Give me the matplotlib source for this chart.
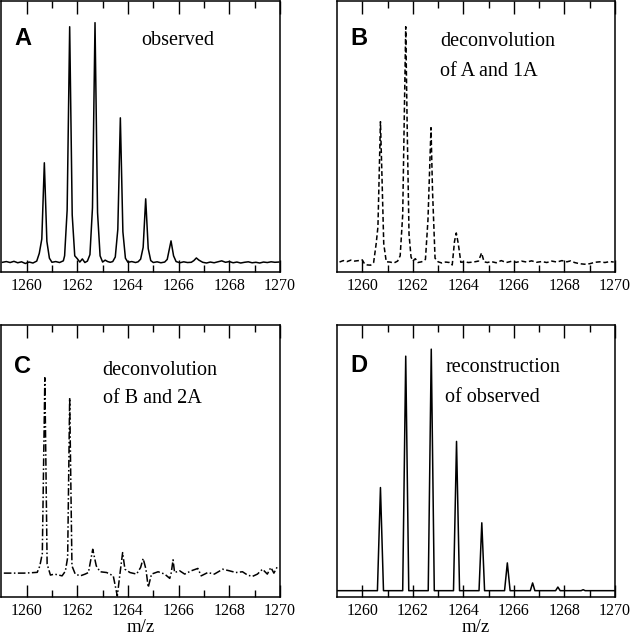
import numpy as np
import matplotlib.pyplot as plt

SERIF = ['Liberation Serif', 'DejaVu Serif']
SANS = ['Liberation Sans', 'DejaVu Sans']

# A: observed
MZ_A = [1259.05, 1259.2, 1259.35, 1259.5, 1259.65, 1259.8, 1259.95, 1260.1, 1260.25, 1260.4,
        1260.5, 1260.6, 1260.7, 1260.8, 1260.9, 1261.0, 1261.15, 1261.3, 1261.45, 1261.5,
        1261.6, 1261.7, 1261.8, 1261.9, 1262.0, 1262.1, 1262.2, 1262.3, 1262.4, 1262.5,
        1262.6, 1262.7, 1262.8, 1262.9, 1263.0, 1263.1, 1263.2, 1263.3, 1263.4, 1263.5,
        1263.6, 1263.7, 1263.8, 1263.9, 1264.0, 1264.15, 1264.3, 1264.4, 1264.5, 1264.6,
        1264.7, 1264.8, 1264.9, 1265.0, 1265.15, 1265.3, 1265.45, 1265.55, 1265.7, 1265.8,
        1265.9, 1266.05, 1266.2, 1266.35, 1266.5, 1266.6, 1266.7, 1266.8, 1266.95, 1267.1,
        1267.25, 1267.4, 1267.55, 1267.7, 1267.85, 1268.0, 1268.15, 1268.3, 1268.45, 1268.6,
        1268.75, 1268.9, 1269.05, 1269.2, 1269.35, 1269.5, 1269.65, 1269.8, 1269.95]
INT_A = [0.3, 0.6, 0.2, 0.7, 0.1, 0.5, -0.2, 0.4, 0.0, 0.8,
         4.0, 10.0, 41.7, 9.0, 2.0, 0.3, 0.6, 0.2, 0.9, 3.0,
         22.0, 98.3, 20.0, 3.0, 1.8, 0.4, 1.7, 0.2, 0.8, 3.5,
         23.0, 100.0, 21.0, 3.0, 0.4, 1.2, 0.6, 0.3, 0.6, 2.5,
         14.0, 60.4, 13.0, 2.0, 0.3, 0.6, 0.2, 0.5, 1.6, 6.5,
         26.7, 6.0, 1.0, 0.2, 0.5, 0.1, 0.4, 1.5, 9.2, 3.0,
         0.6, 0.1, 0.5, 0.2, 0.3, 1.0, 2.1, 1.2, 0.3, 0.0,
         0.4, 0.1, 0.5, 0.9, 0.3, 0.6, 0.1, 0.4, 0.0, 0.3,
         0.5, 0.1, 0.3, 0.0, 0.4, 0.2, 0.5, 0.3, 0.4]

# B: deconvolution of A and 1A
MZ_B = [1259.1, 1259.25, 1259.4, 1259.55, 1259.7, 1259.85, 1260.0, 1260.1, 1260.2, 1260.33,
        1260.45, 1260.55, 1260.62, 1260.72, 1260.78, 1260.85, 1260.95, 1261.1, 1261.25, 1261.4,
        1261.5, 1261.6, 1261.72, 1261.78, 1261.85, 1261.93, 1262.0, 1262.1, 1262.2, 1262.35,
        1262.5, 1262.6, 1262.72, 1262.78, 1262.88, 1263.0, 1263.15, 1263.3, 1263.45, 1263.56,
        1263.65, 1263.72, 1263.8, 1263.9, 1264.05, 1264.2, 1264.4, 1264.6, 1264.72, 1264.82,
        1264.95, 1265.1, 1265.3, 1265.5, 1265.7, 1265.9, 1266.1, 1266.3, 1266.5, 1266.7,
        1266.9, 1267.1, 1267.3, 1267.5, 1267.7, 1267.9, 1268.1, 1268.25, 1268.4, 1268.6,
        1268.8, 1269.0, 1269.2, 1269.4, 1269.6, 1269.8, 1269.95]
INT_B = [0.4, 1.0, 0.6, 1.2, 0.8, 1.0, 1.3, -0.5, -0.8, -0.9,
         0.2, 8.0, 15.0, 58.8, 36.0, 8.0, 0.5, 0.4, 0.0, 0.8,
         3.0, 20.0, 98.3, 55.0, 12.0, 2.5, 0.8, 1.8, 0.2, 0.5,
         1.5, 18.0, 56.3, 30.0, 2.0, 0.5, 0.0, 0.4, 0.2, -0.8,
         9.0, 12.5, 8.0, 0.3, 0.5, 0.2, 0.4, 0.8, 4.2, 0.5,
         0.2, 0.6, 0.1, 1.0, 0.2, 0.7, 0.3, 0.8, 0.4, 0.9,
         0.3, 0.6, 0.2, 0.8, 0.4, 1.0, 0.5, 0.9, 0.2, -0.3,
         -0.5, -0.3, 0.3, 0.5, 0.2, 0.6, 0.4]

# C: deconvolution of B and 2A
MZ_C = [1259.1, 1259.5, 1259.9, 1260.2, 1260.42, 1260.52, 1260.62, 1260.72, 1260.81, 1260.94,
        1261.1, 1261.27, 1261.4, 1261.53, 1261.62, 1261.7, 1261.79, 1261.92, 1262.12, 1262.31,
        1262.44, 1262.61, 1262.75, 1262.9, 1263.16, 1263.42, 1263.58, 1263.69, 1263.79, 1263.88,
        1264.08, 1264.34, 1264.5, 1264.6, 1264.71, 1264.8, 1264.93, 1265.19, 1265.45, 1265.65,
        1265.71, 1265.78, 1265.84, 1266.04, 1266.24, 1266.5, 1266.76, 1266.89, 1267.15, 1267.41,
        1267.74, 1268.0, 1268.26, 1268.52, 1268.72, 1268.91, 1269.11, 1269.31, 1269.5, 1269.64,
        1269.76, 1269.9]
INT_C = [0.0, 0.0, 0.0, 0.2, 0.4, 3.6, 10.0, 100.0, 4.6, -1.0,
         -0.5, -1.0, -1.4, 1.0, 8.0, 89.8, 3.7, -0.5, -1.4, -0.5,
         0.3, 12.2, 3.7, 0.7, 0.3, -1.4, -11.7, 0.3, 10.5, 2.0,
         0.3, -0.5, 2.9, 7.5, 2.0, -7.3, -0.5, 0.7, -0.5, -2.7,
         0.3, 6.8, 0.3, 1.2, -0.5, 1.2, 2.4, -1.4, 0.3, -0.5,
         2.0, 1.2, 0.3, 0.7, -1.0, -1.7, -0.5, 2.0, -0.5, 2.9,
         0.0, 3.4]

# D: reconstruction of observed
MZ_D = [1259.0, 1260.6, 1260.72, 1260.84, 1261.6, 1261.72, 1261.84, 1262.61, 1262.73, 1262.85,
        1263.61, 1263.73, 1263.85, 1264.62, 1264.73, 1264.84, 1265.63, 1265.74, 1265.85, 1266.65,
        1266.74, 1266.83, 1267.65, 1267.74, 1267.83, 1268.66, 1268.74, 1268.82, 1270.0]
INT_D = [0.0, 0.0, 42.7, 0.0, 0.0, 97.1, 0.0, 0.0, 100.0, 0.0,
         0.0, 61.8, 0.0, 0.0, 28.1, 0.0, 0.0, 11.5, 0.0, 0.0,
         3.2, 0.0, 0.0, 1.5, 0.0, 0.0, 0.4, 0.0, 0.0]

PANELS = [
    ('A', ['observed'], MZ_A, INT_A, '-', (-3.75, 109.0)),
    ('B', ['deconvolution', 'of A and 1A'], MZ_B, INT_B, (0, (3.2, 1.8)), (-3.75, 109.0)),
    ('C', ['deconvolution', 'of B and 2A'], MZ_C, INT_C, (0, (5, 1.6, 1, 1.6)), (-12.2, 127.0)),
    ('D', ['reconstruction', 'of observed'], MZ_D, INT_D, '-', (-2.6, 110.0)),
]

# axes rectangles in figure fraction
RECTS = [
    (0.002, 0.5743, 0.441, 0.4241),
    (0.5332, 0.5743, 0.4399, 0.4241),
    (0.002, 0.0658, 0.441, 0.4256),
    (0.5332, 0.0658, 0.4399, 0.4256),
]
LETTER_POS = [(0.046, 0.838), (0.049, 0.838), (0.046, 0.824), (0.049, 0.828)]
NOTE_POS = [(0.504, [0.838]), (0.37, [0.835, 0.723]), (0.364, [0.817, 0.713]), (0.39, [0.827, 0.716])]

fig = plt.figure(figsize=(6.32, 6.39), dpi=100)

for i, (letter, notes, mz, inten, ls, ylim) in enumerate(PANELS):
    ax = fig.add_axes(RECTS[i])
    ax.plot(mz, inten, color='black', lw=1.1, linestyle=ls)
    ax.set_xlim(1259.0, 1270.0)
    ax.set_ylim(*ylim)
    ax.set_yticks([])
    ax.set_xticks(np.arange(1260, 1271, 2))
    ax.set_xticks(np.arange(1261, 1270, 2), minor=True)
    ax.tick_params(axis='x', which='both', direction='in', top=True, bottom=True, width=1.0,
                   labelsize=11.5, pad=4)
    ax.tick_params(axis='x', which='major', length=9)
    ax.tick_params(axis='x', which='minor', length=5)
    for lab in ax.get_xticklabels():
        lab.set_family(SERIF)
    for sp in ax.spines.values():
        sp.set_linewidth(1.1)
    lx, ly = LETTER_POS[i]
    ax.text(lx, ly, letter, transform=ax.transAxes, family=SANS, fontweight='bold',
            fontsize=17, ha='left', va='baseline')
    nx, nys = NOTE_POS[i]
    for line, ny in zip(notes, nys):
        ax.text(nx, ny, line, transform=ax.transAxes, family=SERIF, fontsize=14.5,
                ha='left', va='baseline')
    if i >= 2:
        ax.set_xlabel('m/z', family=SERIF, fontsize=13.5, labelpad=0)

fig.savefig('out.png', dpi=100)
